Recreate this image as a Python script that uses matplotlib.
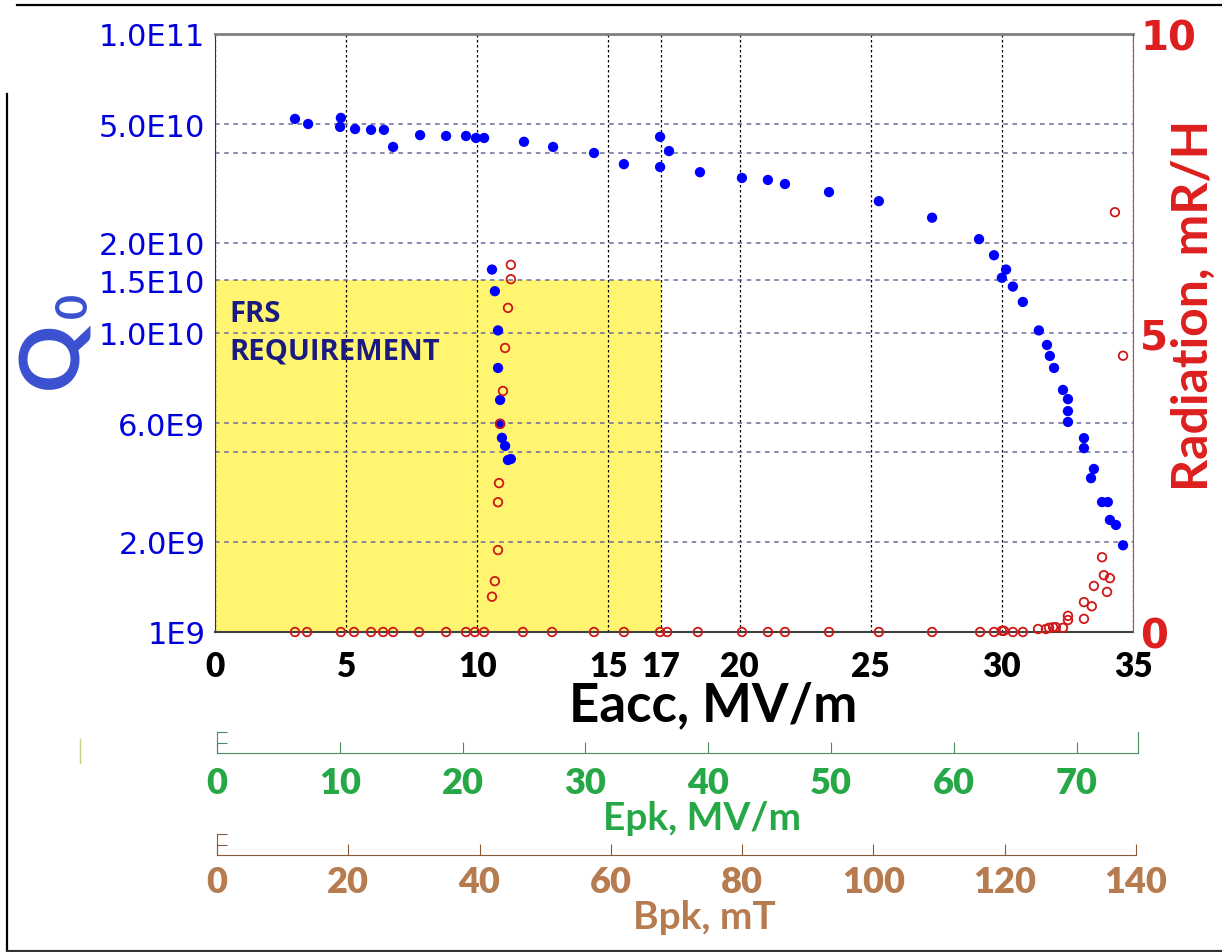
import numpy as np
import matplotlib.pyplot as plt
from matplotlib.patches import Rectangle
from matplotlib.lines import Line2D

# Q0 vs Eacc (blue filled dots)
q_eacc = [3.05, 3.55, 4.80, 4.77, 5.34, 5.95, 6.44, 6.79, 7.82, 8.81, 9.57, 9.95, 10.26,
          11.78, 12.89, 14.45, 15.59, 16.97, 16.97, 17.31, 18.49, 20.09, 21.08, 21.73,
          23.41, 25.31, 27.34, 29.13, 29.70, 30.16, 30.00, 30.42, 30.80, 31.41, 31.72,
          31.83, 31.99, 32.33, 32.52, 32.52, 32.52, 33.13, 33.13, 33.51, 33.40, 33.82,
          34.04, 34.12, 34.35, 34.62,
          10.56, 10.67, 10.79, 10.79, 10.87, 10.87, 10.94, 11.06, 11.17, 11.28]
q0 = [5.20e10, 5.00e10, 5.24e10, 4.89e10, 4.81e10, 4.78e10, 4.78e10, 4.19e10, 4.59e10,
      4.56e10, 4.56e10, 4.49e10, 4.49e10, 4.36e10, 4.19e10, 4.00e10, 3.67e10, 4.53e10,
      3.59e10, 4.06e10, 3.45e10, 3.30e10, 3.25e10, 3.15e10, 2.96e10, 2.76e10, 2.43e10,
      2.06e10, 1.82e10, 1.63e10, 1.53e10, 1.43e10, 1.27e10, 1.02e10, 9.12e9, 8.38e9,
      7.64e9, 6.45e9, 6.01e9, 5.48e9, 5.04e9, 4.45e9, 4.12e9, 3.51e9, 3.27e9, 2.72e9,
      2.72e9, 2.37e9, 2.28e9, 1.95e9,
      1.63e10, 1.38e10, 1.02e10, 7.64e9, 5.97e9, 4.97e9, 4.46e9, 4.19e9, 3.76e9, 3.79e9]

# radiation vs Eacc (red open circles)
rad_eacc = [3.05, 3.51, 4.80, 5.30, 5.95, 6.41, 6.79, 7.78, 8.81, 9.57, 9.91, 10.26,
            11.74, 12.85, 14.45, 15.59, 16.97, 17.24, 18.41, 20.09, 21.08, 21.73, 23.41,
            25.31, 27.34, 29.17, 29.70, 30.00, 30.08, 30.42, 30.80,
            11.28, 11.28, 11.17, 11.06, 10.98, 10.87, 10.83, 10.79, 10.79, 10.67, 10.56,
            31.38, 31.68, 31.80, 31.95, 32.06, 32.33, 32.52, 32.52, 33.13, 33.13, 33.43,
            33.51, 34.01, 33.89, 34.12, 33.82, 34.31, 34.62]
rad = [0, 0, 0, 0, 0, 0, 0, 0, 0, 0, 0, 0,
       0, 0, 0, 0, 0, 0, 0, 0, 0, 0, 0,
       0, 0, 0, 0, 0.02, 0.02, 0, 0,
       6.14, 5.90, 5.42, 4.75, 4.03, 3.48, 2.49, 2.17, 1.37, 0.85, 0.59,
       0.05, 0.05, 0.07, 0.08, 0.08, 0.07, 0.20, 0.27, 0.22, 0.50, 0.43,
       0.77, 0.67, 0.95, 0.90, 1.25, 7.02, 4.62]

eacc_ticks = [0, 5, 10, 15, 17, 20, 25, 30, 35]
q_ticks = [1e9, 2e9, 4e9, 5e9, 1e10, 1.5e10, 2e10, 4e10, 5e10, 1e11]
q_labels = ["1E9", "2.0E9", "", "6.0E9", "1.0E10", "1.5E10", "2.0E10", "", "5.0E10", "1.0E11"]
rad_ticks = [0, 5, 10]
epk_ticks = [0, 10, 20, 30, 40, 50, 60, 70]
bpk_ticks = [0, 20, 40, 60, 80, 100, 120, 140]
frs_eacc = 17
frs_q0 = 1.5e10

W, H = 1222, 953
fig = plt.figure(figsize=(W / 100, H / 100), dpi=100)


def box(x0, y0, x1, y1):
    return [x0 / W, 1 - y1 / H, (x1 - x0) / W, (y1 - y0) / H]


blue_txt = "#0000dd"
red = "#dd1f1f"
green = "#27a847"
green_line = "#4d8a5c"
brown = "#b77b50"
brown_line = "#8a5a3c"

ax = fig.add_axes(box(215, 35, 1133, 633))
ax.set_yscale("log")
ax.set_xlim(0, 35)
ax.set_ylim(1e9, 1e11)
ax.add_patch(Rectangle((0, 1e9), frs_eacc, frs_q0 - 1e9, facecolor="#fff571",
                       edgecolor="none", zorder=1))
ax.scatter(q_eacc, q0, s=55, color="#0000ff", edgecolors="none", zorder=3)

ax.set_xticks(eacc_ticks)
ax.set_xticklabels([str(t) for t in eacc_ticks])
ax.set_yticks(q_ticks)
ax.set_yticklabels(q_labels)
ax.yaxis.set_minor_locator(plt.NullLocator())
ax.tick_params(axis="x", length=0, pad=13)
ax.tick_params(axis="y", length=0, pad=7)
for t in ax.get_xticklabels():
    t.set_fontfamily("Lato")
    t.set_fontweight("heavy")
    t.set_fontsize(24)
    t.set_color("black")
for t in ax.get_yticklabels():
    t.set_fontfamily("DejaVu Sans")
    t.set_fontsize(22)
    t.set_color(blue_txt)
ax.xaxis.grid(True, color="black", linestyle=(0, (2, 2)), linewidth=0.9)
ax.yaxis.grid(True, color="#6a6a98", linestyle=(0, (3, 3)), linewidth=1.1)
ax.spines["top"].set_color("#808080")
ax.spines["top"].set_linewidth(2)
ax.spines["left"].set_color("#2a2aa0")
ax.spines["bottom"].set_color("#404040")
ax.spines["bottom"].set_linewidth(1.5)
ax.spines["right"].set_visible(False)

ax2 = ax.twinx()
ax2.set_ylim(0, 10)
ax2.scatter(rad_eacc, rad, s=38, facecolors="none", edgecolors="#d01818",
            linewidths=1.3, zorder=4, clip_on=False)
ax2.set_yticks(rad_ticks)
ax2.tick_params(axis="y", length=0, pad=5, labelsize=29, labelcolor=red)
for t in ax2.get_yticklabels():
    t.set_fontfamily("DejaVu Sans")
    t.set_fontweight("bold")
for s in ["left", "top", "bottom"]:
    ax2.spines[s].set_visible(False)
ax2.spines["right"].set_color("#d04040")

fig.text(1193 / W, 1 - 305 / H, "Radiation, mR/H", rotation=90, ha="center", va="center",
         fontsize=36, fontfamily="Lato", fontweight="bold", color=red)
fig.text(54 / W, 1 - 355 / H, "Q", rotation=90, ha="center", va="center",
         fontsize=60, fontfamily="Lato", fontweight="bold", color="#3a50d0")
fig.text(74 / W, 1 - 305 / H, "0", rotation=90, ha="center", va="center",
         fontsize=31, fontfamily="Lato", fontweight="bold", color="#3a50d0")
ax.text(0.55, 1.16e10, "FRS", fontsize=21, fontfamily="Open Sans", fontweight="bold",
        color="#1a1a80", va="center")
ax.text(0.55, 8.7e9, "REQUIREMENT", fontsize=21, fontfamily="Open Sans",
        fontweight="bold", color="#1a1a80", va="center")
fig.text(713 / W, 1 - 706 / H, "Eacc, MV/m", ha="center", va="center", fontsize=38,
         fontfamily="Lato", fontweight="bold", color="black")

# secondary scales: peak electric and magnetic fields
ax_e = fig.add_axes(box(217, 733, 1138, 754))
ax_e.set_xlim(0, 75)
ax_e.set_ylim(0, 1)
ax_e.patch.set_alpha(0)
ax_e.spines["top"].set_visible(False)
for s in ["left", "bottom", "right"]:
    ax_e.spines[s].set_color(green_line)
ax_e.set_xticks(epk_ticks)
ax_e.tick_params(axis="x", direction="in", length=8, color=green_line, pad=9,
                 labelsize=26, labelcolor=green)
ax_e.set_yticks([0.5, 1.0])
ax_e.tick_params(axis="y", direction="in", length=7, color=green_line, labelleft=False)
for t in ax_e.get_xticklabels():
    t.set_fontfamily("Lato")
    t.set_fontweight("heavy")
fig.text(702 / W, 1 - 818 / H, "Epk, MV/m", ha="center", va="center", fontsize=28,
         fontfamily="Lato", fontweight="bold", color=green)

ax_b = fig.add_axes(box(217, 835, 1136, 856))
ax_b.set_xlim(0, 140)
ax_b.set_ylim(0, 1)
ax_b.patch.set_alpha(0)
for s in ["top", "right"]:
    ax_b.spines[s].set_visible(False)
for s in ["left", "bottom"]:
    ax_b.spines[s].set_color(brown_line)
ax_b.set_xticks(bpk_ticks)
ax_b.tick_params(axis="x", direction="in", length=8, color=brown_line, pad=7,
                 labelsize=26, labelcolor=brown)
ax_b.set_yticks([0.5, 1.0])
ax_b.tick_params(axis="y", direction="in", length=7, color=brown_line, labelleft=False)
for t in ax_b.get_xticklabels():
    t.set_fontfamily("Lato")
    t.set_fontweight("heavy")
fig.text(704 / W, 1 - 918 / H, "Bpk, mT", ha="center", va="center", fontsize=28,
         fontfamily="Lato", fontweight="bold", color=brown)

# frame lines of the original screenshot
fig.add_artist(Line2D([17 / W, 1], [1 - 6 / H] * 2, color="black", lw=1.6))
fig.add_artist(Line2D([7 / W] * 2, [1 - 95 / H, 1 - 952 / H], color="black", lw=1.6))
fig.add_artist(Line2D([7 / W, 1], [1 - 952 / H] * 2, color="#333333", lw=1.6))
fig.add_artist(Line2D([80 / W] * 2, [1 - 740 / H, 1 - 764 / H], color="#c8d080", lw=1))

fig.savefig("out.png", dpi=100)
